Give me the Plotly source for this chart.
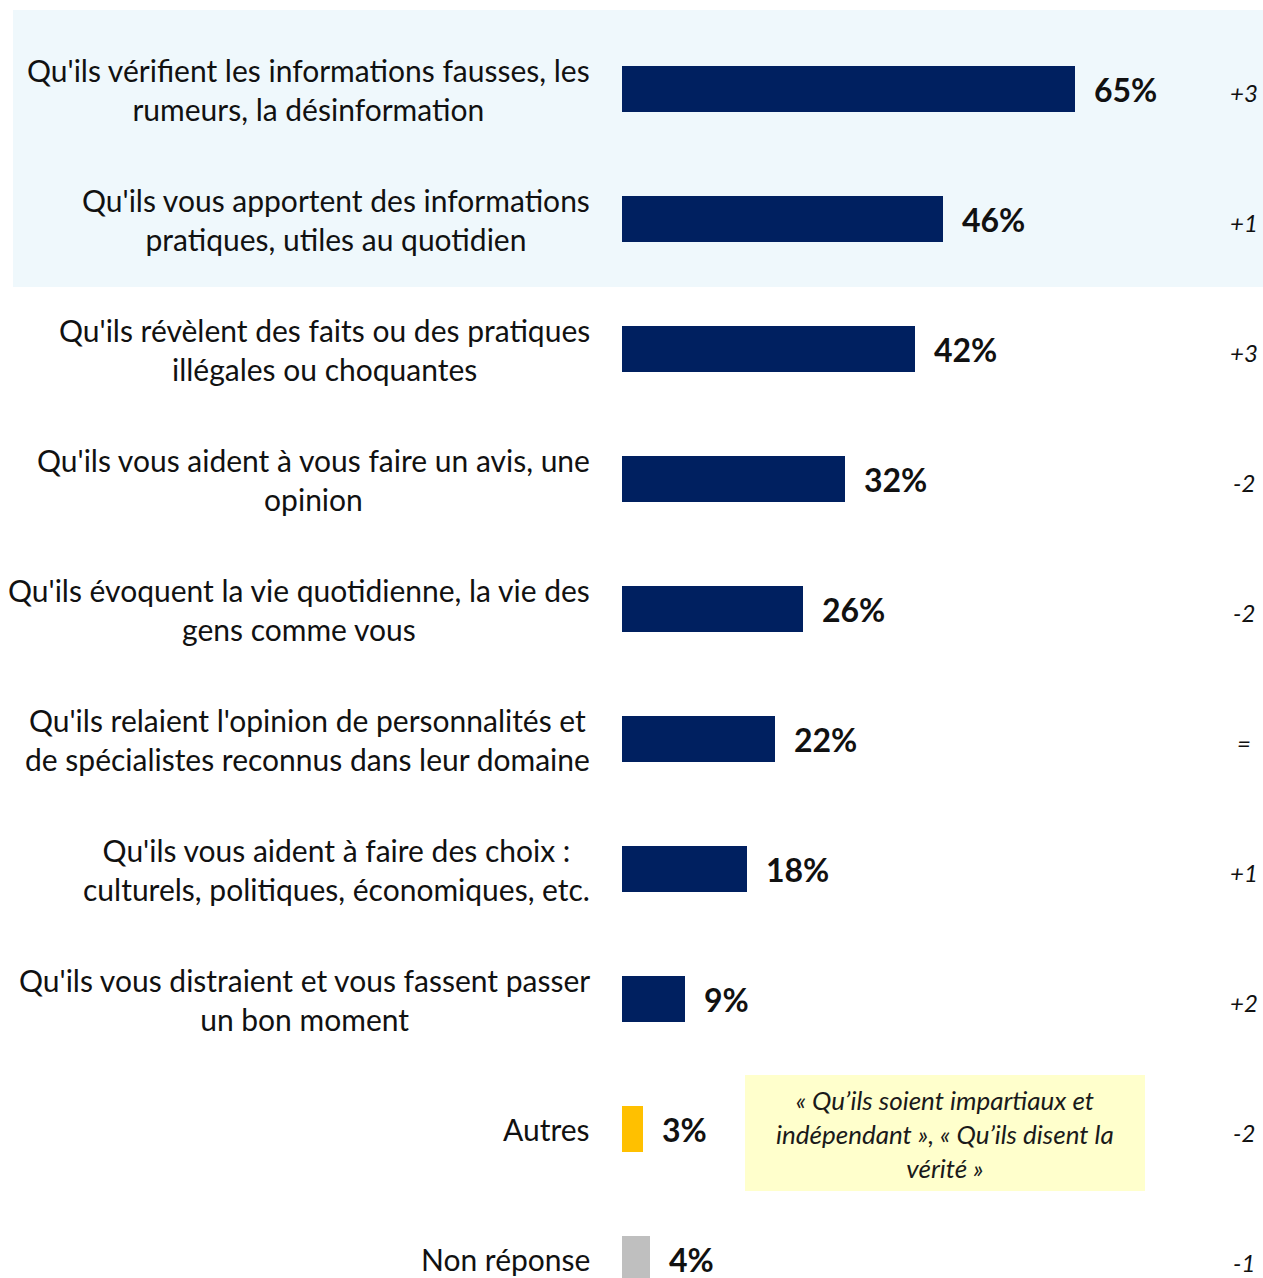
import plotly.graph_objects as go

# ── data ─────────────────────────────────────────────────────────────────────

labels = [
    "Qu'ils vérifient les informations fausses, les<br>rumeurs, la désinformation",
    "Qu'ils vous apportent des informations<br>pratiques, utiles au quotidien",
    "Qu'ils révèlent des faits ou des pratiques<br>illégales ou choquantes",
    "Qu'ils vous aident à vous faire un avis, une<br>opinion",
    "Qu'ils évoquent la vie quotidienne, la vie des<br>gens comme vous",
    "Qu'ils relaient l'opinion de personnalités et<br>de spécialistes reconnus dans leur domaine",
    "Qu'ils vous aident à faire des choix :<br>culturels, politiques, économiques, etc.",
    "Qu'ils vous distraient et vous fassent passer<br>un bon moment",
    "Autres",
    "Non réponse",
]
values = [65, 46, 42, 32, 26, 22, 18, 9, 3, 4]
changes = ["+3", "+1", "+3", "-2", "-2", "=", "+1", "+2", "-2", "-1"]
bar_colors = ["#002060"] * 8 + ["#FFC000", "#BFBFBF"]
note_text = "« Qu’ils soient impartiaux et<br>indépendant », « Qu’ils disent la<br>vérité »"

# ── layout geometry (page pixels, body margin removed below) ────────────────

W, H = 1263, 1278
X0 = 622            # pixel of 0 %
PX_PER_PCT = 6.97
Y0, STEP = 89, 130  # centre of first bar, spacing

x_range = [-X0 / PX_PER_PCT, (W - X0) / PX_PER_PCT]
y_range = [(H - Y0) / STEP, -Y0 / STEP]


def fx(px):
    return px / W


def fy(py):
    return 1 - py / H


pos = list(range(len(values)))

fig = go.Figure()
fig.add_trace(go.Bar(
    x=values, y=pos, orientation="h",
    marker=dict(color=bar_colors, line=dict(width=0)),
    width=46 / STEP,
    hoverinfo="skip",
))

FONT = "Lato, 'Open Sans', sans-serif"

# highlight band behind the first two items
fig.add_shape(type="rect", xref="paper", yref="paper",
              x0=fx(13), x1=1, y0=fy(287), y1=fy(10),
              fillcolor="#EFF8FC", line=dict(width=0), layer="below")

# note box next to "Autres"
fig.add_shape(type="rect", xref="paper", yref="paper",
              x0=fx(745), x1=fx(1145), y0=fy(1191), y1=fy(1075),
              fillcolor="#FFFFCC", line=dict(width=0), layer="below")
fig.add_annotation(xref="paper", yref="paper", x=fx(945), y=fy(1134),
                   xanchor="center", yanchor="middle",
                   text=f"<i>{note_text}</i>", showarrow=False, align="center",
                   font=dict(family=FONT, size=26, color="#1a1a1a"))

for i, (lab, v, ch) in enumerate(zip(labels, values, changes)):
    fig.add_annotation(xref="paper", yref="y", x=fx(592), y=i,
                       xanchor="right", yanchor="middle",
                       text=lab, showarrow=False, align="center",
                       font=dict(family=FONT, size=30, color="#111111"))
    fig.add_annotation(xref="x", yref="y", x=v, y=i,
                       xanchor="left", yanchor="middle", xshift=17,
                       text=f"<b>{v}%</b>", showarrow=False,
                       font=dict(family=FONT, size=32, color="#111111"))
    fig.add_annotation(xref="paper", yref="y", x=fx(1244), y=i,
                       xanchor="center", yanchor="middle", yshift=-3,
                       text=f"<i>{ch}</i>", showarrow=False,
                       font=dict(family=FONT, size=24, color="#111111"))

fig.update_layout(
    width=W, height=H,
    margin=dict(l=0, r=0, t=0, b=0),
    paper_bgcolor="white", plot_bgcolor="rgba(0,0,0,0)",
    showlegend=False, bargap=0,
    xaxis=dict(range=x_range, visible=False, fixedrange=True),
    yaxis=dict(range=y_range, visible=False, fixedrange=True),
)

fig.write_html(
    "out.html",
    config={"displayModeBar": False},
    post_script="document.body.style.margin='0px';document.body.style.overflow='hidden';",
)
